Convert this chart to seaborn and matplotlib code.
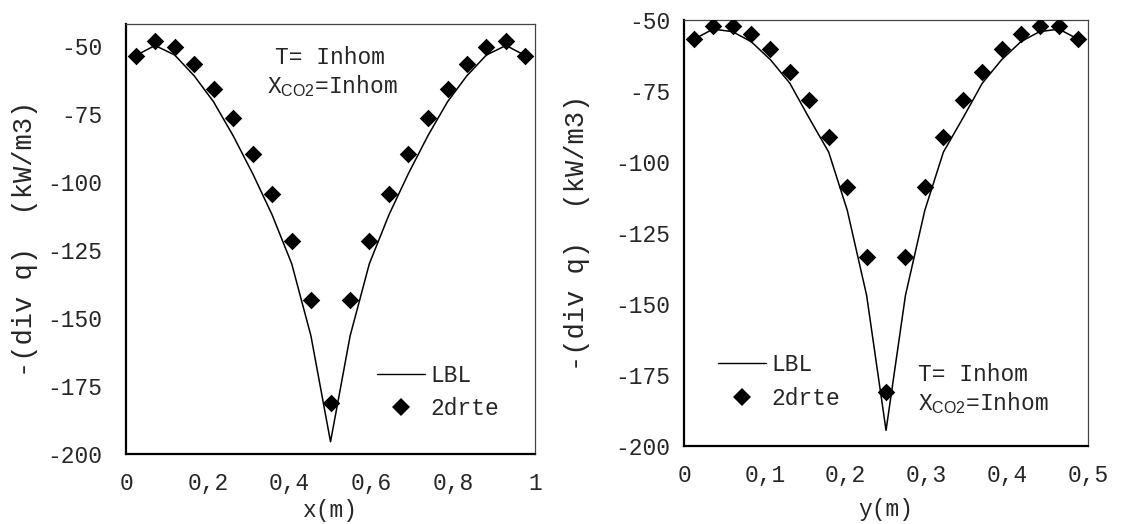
import numpy as np
import pandas as pd
import seaborn as sns
import matplotlib
matplotlib.use("Agg")
import matplotlib.pyplot as plt
from matplotlib.ticker import MultipleLocator, FixedLocator, FixedFormatter
from matplotlib.lines import Line2D

# ---- data -------------------------------------------------------------
# cell-centre positions along the x and y traverses
x_cells = [0.024, 0.071, 0.119, 0.167, 0.214, 0.262, 0.310, 0.357, 0.405, 0.452, 0.500,
           0.548, 0.595, 0.643, 0.690, 0.738, 0.786, 0.833, 0.881, 0.929, 0.976]
y_cells = [0.012, 0.036, 0.060, 0.083, 0.107, 0.131, 0.155, 0.179, 0.202, 0.226, 0.250,
           0.274, 0.298, 0.321, 0.345, 0.369, 0.393, 0.417, 0.440, 0.464, 0.488]

# -(div q) in kW/m3 along x
lbl_x = [-53.5, -49.8, -53.3, -61.0, -70.5, -83.0, -97.0, -112.0, -130.0, -156.5, -195.5,
         -156.5, -130.0, -112.0, -97.0, -83.0, -70.5, -61.0, -53.3, -49.8, -53.5]
rte_x = [-53.7, -48.0, -50.2, -56.6, -65.7, -76.6, -89.7, -104.5, -121.7, -143.5, -181.3,
         -143.5, -121.7, -104.5, -89.7, -76.6, -65.7, -56.6, -50.2, -48.0, -53.7]

# -(div q) in kW/m3 along y
lbl_y = [-56.8, -53.2, -54.1, -57.6, -64.0, -72.3, -84.6, -96.5, -117.0, -147.0, -194.5,
         -147.0, -117.0, -96.5, -84.6, -72.3, -64.0, -57.6, -54.1, -53.2, -56.8]
rte_y = [-56.8, -52.0, -52.0, -55.0, -60.3, -68.2, -78.2, -91.3, -108.7, -133.3, -181.0,
         -133.3, -108.7, -91.3, -78.2, -68.2, -60.3, -55.0, -52.0, -52.0, -56.8]

series_names = ["LBL", "2drte"]
ylabel_text = "-(div q)  (kW/m3)"
case_T = "T= Inhom"
case_X = r"X$_{\mathrm{CO2}}$=Inhom"

x_ticks = [0, 0.2, 0.4, 0.6, 0.8, 1.0]
x_ticklabels = ["0", "0,2", "0,4", "0,6", "0,8", "1"]
y_ticks_r = [0, 0.1, 0.2, 0.3, 0.4, 0.5]
y_ticklabels_r = ["0", "0,1", "0,2", "0,3", "0,4", "0,5"]
q_ticks = [-200, -175, -150, -125, -100, -75, -50]
q_ticklabels = ["-200", "-175", "-150", "-125", "-100", "-75", "-50"]

# ---- style ------------------------------------------------------------
sns.set_style("white")
plt.rcParams["font.family"] = ["Liberation Mono", "DejaVu Sans Mono"]
plt.rcParams["mathtext.fontset"] = "custom"
plt.rcParams["mathtext.rm"] = "Liberation Sans"
FS = 16.5
FS_YLAB = 19.5

fig = plt.figure(figsize=(11.21, 5.24), dpi=100)
axL = fig.add_axes([0.1124, 0.1336, 0.3649, 0.8206])
axR = fig.add_axes([0.6102, 0.1489, 0.3604, 0.8129])


def draw_panel(ax, pos, lbl, rte):
    df = pd.DataFrame({"pos": pos, "lbl": lbl, "rte": rte})
    sns.lineplot(data=df, x="pos", y="lbl", ax=ax, color="black", lw=1.1,
                 sort=False, legend=False)
    sns.scatterplot(data=df, x="pos", y="rte", ax=ax, color="black", marker="D",
                    s=80, linewidth=0, legend=False, zorder=3)


def style_axes(ax, xt, xtl, xminor, ylim, ypad):
    ax.set_ylim(*ylim)
    ax.set_xlim(xt[0], xt[-1])
    ax.xaxis.set_major_locator(FixedLocator(xt))
    ax.xaxis.set_major_formatter(FixedFormatter(xtl))
    ax.xaxis.set_minor_locator(MultipleLocator(xminor))
    ax.yaxis.set_major_locator(FixedLocator(q_ticks))
    ax.yaxis.set_major_formatter(FixedFormatter(q_ticklabels))
    ax.yaxis.set_minor_locator(MultipleLocator(5))
    ax.tick_params(which="both", direction="in", top=False, right=False,
                   labelsize=FS, color="black")
    ax.tick_params(which="major", length=6, width=1.0)
    ax.tick_params(which="minor", length=3.5, width=1.0)
    ax.tick_params(axis="y", which="major", pad=ypad)
    ax.tick_params(axis="x", which="major", pad=13)
    for s in ("left", "bottom"):
        ax.spines[s].set_linewidth(1.6)
        ax.spines[s].set_color("black")
    for s in ("top", "right"):
        ax.spines[s].set_linewidth(0.9)
        ax.spines[s].set_color("#444444")


def add_legend(ax, anchor, spacing):
    handles = [Line2D([], [], color="black", lw=1.0),
               Line2D([], [], color="black", marker="D", ls="", ms=8.8, mew=0)]
    ax.legend(handles, series_names, loc="upper left", bbox_to_anchor=anchor,
              frameon=False, fontsize=FS, handlelength=2.1, handletextpad=0.22,
              labelspacing=spacing, borderpad=0, borderaxespad=0)


# along x
draw_panel(axL, x_cells, lbl_x, rte_x)
style_axes(axL, x_ticks, x_ticklabels, 0.04, (-200, -41.9), 17)
axL.set_xlabel("x(m)", fontsize=FS, labelpad=3)
axL.set_ylabel(ylabel_text, fontsize=FS_YLAB, labelpad=7)
add_legend(axL, (0.614, 0.21), 0.45)
axL.text(0.364, 0.923, case_T, transform=axL.transAxes, fontsize=FS,
         ha="left", va="center")
axL.text(0.345, 0.856, case_X, transform=axL.transAxes, fontsize=FS,
         ha="left", va="center")

# along y
draw_panel(axR, y_cells, lbl_y, rte_y)
style_axes(axR, y_ticks_r, y_ticklabels_r, 0.02, (-200, -50), 10)
axR.set_xlabel("y(m)", fontsize=FS, labelpad=8)
axR.set_ylabel(ylabel_text, fontsize=FS_YLAB, labelpad=18)
add_legend(axR, (0.084, 0.219), 0.5)
axR.text(0.579, 0.167, case_T, transform=axR.transAxes, fontsize=FS,
         ha="left", va="center")
axR.text(0.579, 0.101, case_X, transform=axR.transAxes, fontsize=FS,
         ha="left", va="center")

fig.savefig("out.png", dpi=100)
